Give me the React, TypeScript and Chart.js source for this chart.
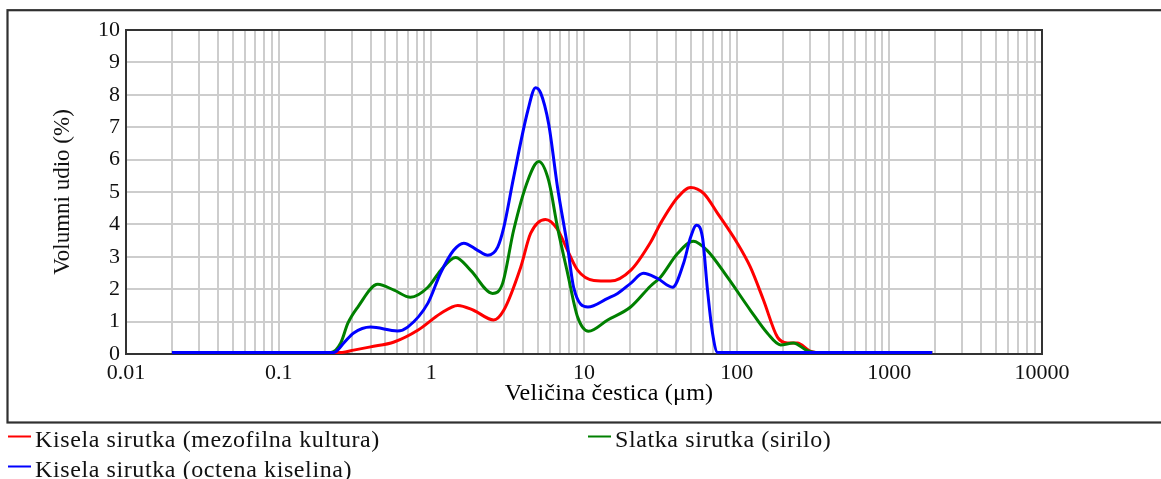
import React, { useEffect, useRef } from 'react';
import { Chart, registerables } from 'chart.js';

Chart.register(...registerables);

const SERIES_LABELS = [
  'Kisela sirutka (mezofilna kultura)',
  'Slatka sirutka (sirilo)',
  'Kisela sirutka (octena kiselina)',
];
const SERIES_COLORS = ['#ff0000', '#008000', '#0000ff'];

const redX = [0.02, 0.26, 0.31, 0.4, 0.57, 0.82, 1.15, 1.49, 1.89, 2.56, 2.98, 3.85, 4.47, 5.6, 6.7, 7.8, 9.1, 11.6, 14.9, 20.2, 27.3, 31.7, 41, 50, 61, 75, 101, 123, 150, 185, 215, 250, 300, 330, 1910];
const redY = [0.05, 0.05, 0.12, 0.22, 0.37, 0.74, 1.25, 1.5, 1.35, 1.05, 1.35, 2.68, 3.72, 4.15, 3.85, 3.2, 2.58, 2.27, 2.25, 2.58, 3.45, 4.03, 4.83, 5.14, 4.95, 4.34, 3.42, 2.68, 1.66, 0.52, 0.34, 0.34, 0.1, 0.05, 0.05];

const greenX = [0.02, 0.22, 0.255, 0.284, 0.33, 0.446, 0.57, 0.73, 0.95, 1.15, 1.445, 1.81, 2.52, 2.93, 3.46, 4.28, 5.05, 5.87, 6.71, 7.81, 9.08, 10.7, 14.3, 20.2, 27.3, 31.7, 41, 52, 64, 87, 123, 159, 194, 235, 291, 330, 1910];
const greenY = [0.05, 0.05, 0.34, 0.95, 1.45, 2.15, 1.97, 1.75, 2.06, 2.58, 2.98, 2.58, 1.87, 2.18, 3.82, 5.35, 5.94, 5.35, 3.9, 2.49, 1.14, 0.7, 1.05, 1.45, 2.1, 2.37, 3.1, 3.48, 3.2, 2.37, 1.35, 0.64, 0.28, 0.34, 0.1, 0.05, 0.05];

const blueX = [0.02, 0.23, 0.267, 0.31, 0.4, 0.6, 0.7, 0.95, 1.15, 1.4, 1.63, 2.01, 2.34, 2.72, 2.98, 3.46, 4.28, 4.82, 5.2, 5.87, 6.71, 7.81, 8.55, 10.6, 14.3, 16.6, 20.2, 24.5, 30.3, 38, 44.9, 49.9, 54.6, 59.7, 64.4, 69.5, 75, 1910];
const blueY = [0.05, 0.05, 0.34, 0.65, 0.83, 0.71, 0.83, 1.57, 2.5, 3.2, 3.42, 3.2, 3.05, 3.3, 3.9, 5.45, 7.5, 8.22, 8.06, 7.1, 5.14, 3.3, 2.06, 1.45, 1.72, 1.87, 2.18, 2.49, 2.33, 2.06, 2.8, 3.6, 3.97, 3.6, 1.97, 0.64, 0.05, 0.05];

const X_DECADES = [0.01, 0.1, 1, 10, 100, 1000, 10000];
const X_DECADE_LABELS = ['0.01', '0.1', '1', '10', '100', '1000', '10000'];
const Y_MIN = 0;
const Y_MAX = 10;
const X_TITLE = 'Veličina čestica (μm)';
const Y_TITLE = 'Volumni udio (%)';

const FONT = "'Liberation Serif', 'Times New Roman', serif";

const toPoints = (xs: number[], ys: number[]) => xs.map((x, i) => ({ x, y: ys[i] }));

const gridValues = (): number[] => {
  const out: number[] = [];
  for (let d = 0; d < X_DECADES.length - 1; d++) {
    for (let m = 1; m <= 9; m++) out.push(Number((m * X_DECADES[d]).toPrecision(6)));
  }
  out.push(X_DECADES[X_DECADES.length - 1]);
  return out;
};

const decorPlugin = {
  id: 'decor',
  beforeDraw(chart: any) {
    const { ctx, width, height } = chart;
    ctx.save();
    ctx.fillStyle = '#ffffff';
    ctx.fillRect(0, 0, width, height);
    ctx.restore();
  },
  beforeDatasetsDraw(chart: any) {
    const { ctx, chartArea } = chart;
    ctx.save();
    ctx.strokeStyle = '#333333';
    ctx.lineWidth = 2;
    ctx.strokeRect(chartArea.left, chartArea.top, chartArea.right - chartArea.left, chartArea.bottom - chartArea.top);
    ctx.restore();
  },
  afterDraw(chart: any) {
    const { ctx } = chart;
    ctx.save();
    // outer box
    ctx.strokeStyle = '#303030';
    ctx.lineWidth = 2.2;
    ctx.strokeRect(7.5, 10.2, 1170, 412.3);
    // x title
    ctx.fillStyle = '#000000';
    ctx.font = `24px ${FONT}`;
    ctx.textAlign = 'center';
    ctx.textBaseline = 'alphabetic';
    try { (ctx as any).letterSpacing = '0.25px'; } catch (e) {}
    ctx.fillText(X_TITLE, 609, 400);
    // legend
    const items = [
      { i: 0, lx: 8, ly: 436.5, tx: 35, ty: 447 },
      { i: 1, lx: 588, ly: 436.5, tx: 615, ty: 447 },
      { i: 2, lx: 8, ly: 466.5, tx: 35, ty: 477 },
    ];
    ctx.textAlign = 'left';
    try { (ctx as any).letterSpacing = '0.6px'; } catch (e) {}
    items.forEach((it) => {
      ctx.strokeStyle = SERIES_COLORS[it.i];
      ctx.lineWidth = 2;
      ctx.beginPath();
      ctx.moveTo(it.lx, it.ly);
      ctx.lineTo(it.lx + 23, it.ly);
      ctx.stroke();
      ctx.fillStyle = '#111111';
      ctx.fillText(SERIES_LABELS[it.i], it.tx, it.ty);
    });
    try { (ctx as any).letterSpacing = '0px'; } catch (e) {}
    ctx.restore();
  },
};

export default function App() {
  const canvasRef = useRef<HTMLCanvasElement | null>(null);

  useEffect(() => {
    if (!canvasRef.current) return;
    const series = [toPoints(redX, redY), toPoints(greenX, greenY), toPoints(blueX, blueY)];
    const orders = [3, 2, 1];
    const chart = new Chart(canvasRef.current, {
      type: 'line',
      data: {
        datasets: series.map((pts, i) => ({
          label: SERIES_LABELS[i],
          data: pts,
          borderColor: SERIES_COLORS[i],
          backgroundColor: SERIES_COLORS[i],
          borderWidth: 3,
          pointRadius: 0,
          tension: 0.4,
          cubicInterpolationMode: 'monotone' as const,
          fill: false,
          order: orders[i],
        })),
      },
      options: {
        animation: false,
        responsive: false,
        maintainAspectRatio: false,
        layout: { padding: { left: 0, top: 30, right: 119, bottom: 0 } },
        plugins: {
          legend: { display: false },
          tooltip: { enabled: false },
        },
        scales: {
          x: {
            type: 'logarithmic',
            min: X_DECADES[0],
            max: X_DECADES[X_DECADES.length - 1],
            afterBuildTicks: (scale: any) => {
              scale.ticks = gridValues().map((v) => ({ value: v }));
            },
            afterFit: (scale: any) => {
              scale.height = 125;
            },
            ticks: {
              autoSkip: false,
              maxRotation: 0,
              minRotation: 0,
              padding: 6,
              color: '#111111',
              font: { family: FONT, size: 22 },
              callback: (value: any) => {
                const v = Number(value);
                const idx = X_DECADES.findIndex((d) => Math.abs(d - v) / d < 1e-6);
                return idx >= 0 ? X_DECADE_LABELS[idx] : '';
              },
            },
            grid: { color: '#cdcdcd', lineWidth: 2, drawTicks: false },
            border: { display: false },
          },
          y: {
            type: 'linear',
            min: Y_MIN,
            max: Y_MAX,
            afterFit: (scale: any) => {
              scale.width = 126;
            },
            ticks: {
              stepSize: 1,
              padding: 6,
              color: '#111111',
              font: { family: FONT, size: 22 },
            },
            grid: { color: '#cdcdcd', lineWidth: 2, drawTicks: false },
            border: { display: false },
            title: {
              display: true,
              text: Y_TITLE,
              color: '#111111',
              font: { family: FONT, size: 23 },
              padding: { top: 49, bottom: 0 },
            },
          },
        },
      },
      plugins: [decorPlugin],
    } as any);
    return () => chart.destroy();
  }, []);

  return (
    <div style={{ position: 'fixed', left: 0, top: 0, width: 1161, height: 479, background: '#fff' }}>
      <canvas ref={canvasRef} width={1161} height={479} style={{ display: 'block' }} />
    </div>
  );
}
